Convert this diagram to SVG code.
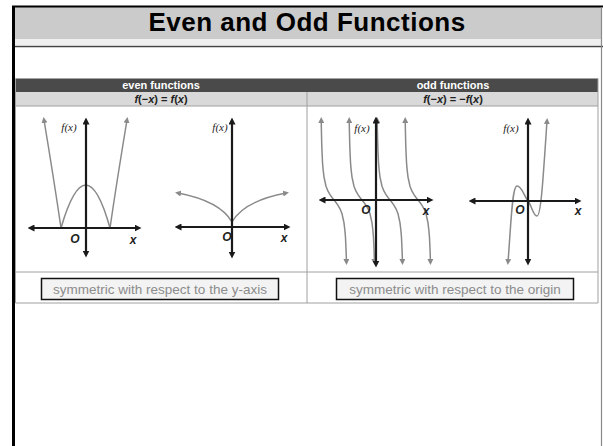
<svg xmlns="http://www.w3.org/2000/svg" width="603" height="446" viewBox="0 0 603 446">
<style>
.ax{stroke:#1a1a1a;stroke-width:2.2;fill:none;marker-start:url(#ka);marker-end:url(#ka)}
.cv{stroke:#8a8a8a;stroke-width:1.5;fill:none}
.ce{marker-end:url(#ga)}
.cb{marker-start:url(#ga);marker-end:url(#ga)}
.lbl{font-family:"Liberation Serif",serif;font-style:italic;font-size:11px;fill:#222}
.ax-l{font-family:"Liberation Sans",Arial,sans-serif;font-style:italic;font-weight:bold;font-size:12px;fill:#222}
.hd{font-family:"Liberation Sans",Arial,sans-serif;font-weight:bold;font-size:11px;fill:#fff;text-anchor:middle}
.fm{font-family:"Liberation Sans",Arial,sans-serif;font-weight:bold;font-size:11px;fill:#222;text-anchor:middle}
.bx{fill:#f3f3f3;stroke:#111;stroke-width:1.5}
.bt{font-family:"Liberation Sans",Arial,sans-serif;font-size:13.5px;fill:#8c8c8c;text-anchor:middle}
.tl{stroke:#a0a0a0;stroke-width:1;fill:none}
</style>
<defs>
<marker id="ka" viewBox="0 0 10 10" refX="5" refY="5" markerWidth="7" markerHeight="7" markerUnits="userSpaceOnUse" orient="auto-start-reverse"><path d="M0,0 L10,5 L0,10 z" fill="#1a1a1a"/></marker>
<marker id="ga" viewBox="0 0 10 10" refX="5" refY="5" markerWidth="6" markerHeight="6" markerUnits="userSpaceOnUse" orient="auto-start-reverse"><path d="M0,0 L10,5 L0,10 z" fill="#8a8a8a"/></marker>
<path id="tanb" class="cv cb" d="M-12.78,120 L-12.65,128 L-12.5,134 L-12.3,143 L-12,151.4 L-11.5,162.3 L-11,168.5 L-10,177.1 L-8,186.2 L-6,191.2 L-4,194.7 L-2,197.5 L0,200 L2,202.5 L4,205.3 L6,208.8 L8,213.8 L10,222.9 L11,231.5 L11.5,237.7 L12,248.6 L12.3,257 L12.43,262"/>
</defs>
<rect width="603" height="446" fill="#fff"/>
<g id="frame">
<rect x="14" y="7" width="588" height="32" fill="#cbcbcb"/>
<rect x="14" y="39" width="588" height="6" fill="#efefef"/>
<line x1="14" y1="46.5" x2="603" y2="46.5" stroke="#444" stroke-width="1.5"/>
<line x1="12" y1="6.5" x2="603" y2="6.5" stroke="#000" stroke-width="2"/>
<rect x="12" y="6" width="3" height="440" fill="#000"/>
<line x1="601.5" y1="7" x2="601.5" y2="446" stroke="#8a8a8a" stroke-width="1.2"/>
<text x="307" y="31" font-family="'Liberation Sans',Arial,sans-serif" font-weight="bold" font-size="26" letter-spacing="0.5" text-anchor="middle" fill="#000">Even and Odd Functions</text>
</g>
<g id="table">
<rect x="15.5" y="78.5" width="582.5" height="13.5" fill="#4a4a4a"/>
<rect x="15.5" y="92" width="582.5" height="14" fill="#d9d9d9"/>
<line class="tl" x1="15.5" y1="106" x2="598" y2="106"/>
<line class="tl" x1="15.5" y1="272" x2="598" y2="272"/>
<line class="tl" x1="15.5" y1="303" x2="598" y2="303"/>
<line class="tl" x1="15.5" y1="78.5" x2="15.5" y2="303"/>
<line class="tl" x1="598" y1="78.5" x2="598" y2="303"/>
<line class="tl" x1="307" y1="92" x2="307" y2="303"/>
<text class="hd" x="161" y="89.3">even functions</text>
<text class="hd" x="453" y="89.3">odd functions</text>
<text class="fm" x="161" y="103"><tspan font-style="italic">f</tspan>(−<tspan font-style="italic">x</tspan>) = <tspan font-style="italic">f</tspan>(<tspan font-style="italic">x</tspan>)</text>
<text class="fm" x="453" y="103"><tspan font-style="italic">f</tspan>(−<tspan font-style="italic">x</tspan>) = −<tspan font-style="italic">f</tspan>(<tspan font-style="italic">x</tspan>)</text>
</g>
<g id="graph-even-1">
<path class="cv ce" d="M61,228 Q54,180 44,120"/>
<path class="cv ce" d="M110,228 Q117,180 127,120"/>
<path class="cv" d="M61,228 Q86,142 110,228"/>
<line class="ax" x1="31" y1="228" x2="138" y2="228"/>
<line class="ax" x1="86" y1="254" x2="86" y2="121"/>
<text class="lbl" x="69" y="131" text-anchor="middle">f(x)</text>
<text class="ax-l" x="75" y="243" text-anchor="middle">O</text>
<text class="ax-l" x="133" y="244" text-anchor="middle">x</text>
</g>
<g id="graph-even-2">
<path class="cv ce" d="M232,222 Q244,201 286,193"/>
<path class="cv ce" d="M232,222 Q220,201 178,193"/>
<line class="ax" x1="178" y1="227" x2="287" y2="227"/>
<line class="ax" x1="232" y1="255" x2="232" y2="121"/>
<text class="lbl" x="220" y="131" text-anchor="middle">f(x)</text>
<text class="ax-l" x="227" y="241" text-anchor="middle">O</text>
<text class="ax-l" x="284" y="242" text-anchor="middle">x</text>
</g>
<g id="graph-odd-1">
<use href="#tanb" x="334"/>
<use href="#tanb" x="362"/>
<use href="#tanb" x="390"/>
<use href="#tanb" x="418"/>
<line class="ax" x1="322" y1="200" x2="430" y2="200"/>
<line class="ax" x1="376" y1="264" x2="376" y2="120"/>
<text class="lbl" x="362" y="132" text-anchor="middle">f(x)</text>
<text class="ax-l" x="366" y="214" text-anchor="middle">O</text>
<text class="ax-l" x="426" y="215" text-anchor="middle">x</text>
</g>
<g id="graph-odd-2">
<path class="cv cb" d="M508,262 C511,225 512,186 517,186 C522,186 524,196 528,201 C532,206 533,216 537,216 C541,216 543,180 547,121"/>
<line class="ax" x1="472" y1="201" x2="578" y2="201"/>
<line class="ax" x1="528" y1="262" x2="528" y2="121"/>
<text class="lbl" x="511" y="132" text-anchor="middle">f(x)</text>
<text class="ax-l" x="520" y="214" text-anchor="middle">O</text>
<text class="ax-l" x="578" y="215" text-anchor="middle">x</text>
</g>
<g id="box-even">
<rect class="bx" x="41.5" y="278.5" width="237" height="21"/>
<text class="bt" x="160" y="293.8">symmetric with respect to the y-axis</text>
</g>
<g id="box-odd">
<rect class="bx" x="336.5" y="278.5" width="237" height="21"/>
<text class="bt" x="455" y="293.8">symmetric with respect to the origin</text>
</g>
</svg>
